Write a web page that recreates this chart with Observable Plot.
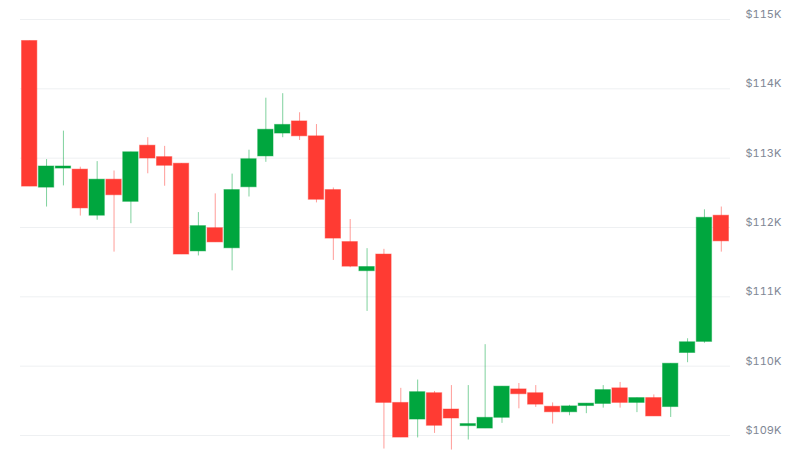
<!DOCTYPE html>
<html>
<head>
<meta charset="utf-8">
<script src="https://cdn.jsdelivr.net/npm/d3@7"></script>
<script src="https://cdn.jsdelivr.net/npm/@observablehq/plot@0.6"></script>
<style>
  html, body { margin: 0; padding: 0; background: #ffffff; }
  #chart { width: 800px; height: 450px; }
</style>
</head>
<body>
<div id="chart"></div>
<script>
const opens  = [114690,112575,112850,112835,112170,112690,112370,113180,113015,112920,111655,111990,111700,112580,113025,113355,113530,113315,112540,111790,111370,111610,109470,109230,109610,109375,109135,109100,109255,109665,109610,109415,109335,109425,109455,109680,109470,109540,109410,110190,110350,112170];
const closes = [112590,112880,112880,112275,112690,112465,113085,112995,112890,111610,112020,111785,112540,112985,113410,113480,113315,112400,111840,111435,111430,109470,108970,109625,109140,109245,109165,109255,109705,109595,109445,109335,109420,109460,109655,109470,109540,109275,110035,110345,112140,111800];
const highs  = [114690,112980,113390,112870,112950,112815,113085,113295,113170,112920,112215,112485,112770,113115,113865,113930,113655,113485,112570,112115,111695,111685,109680,109800,109635,109720,109720,110310,109705,109750,109720,109470,109435,109460,109720,109765,109540,109585,110035,110395,112255,112295];
const lows   = [112590,112295,112600,112165,112105,111645,112055,112775,112595,111610,111590,111785,111375,112440,112940,113295,113255,112355,111525,111420,110790,108805,108970,108965,109030,108790,108935,109100,109175,109385,109405,109165,109285,109315,109395,109395,109330,109275,109260,110050,110330,111645];
const yTicks = [109000,110000,111000,112000,113000,114000,115000];

const UP = "#00a63e", DOWN = "#ff3b33";
const data = opens.map((o, i) => ({
  i, open: o, close: closes[i], high: highs[i], low: lows[i],
  color: closes[i] >= o ? UP : DOWN
}));

const chart = Plot.plot({
  width: 800,
  height: 450,
  marginLeft: 20,
  marginRight: 70,
  marginTop: 19,
  marginBottom: 15,
  style: { fontFamily: "Inter, 'Noto Sans', sans-serif", background: "#ffffff" },
  x: { type: "band", domain: d3.range(opens.length), padding: 0.09, axis: null },
  y: { domain: [109000, 115000], axis: null },
  marks: [
    Plot.gridY(yTicks, { stroke: "#eef0f2", strokeOpacity: 1, strokeWidth: 1 }),
    Plot.axisY(yTicks, {
      anchor: "right",
      tickSize: 0,
      tickPadding: 15,
      dy: -5,
      fontSize: 11,
      fill: "#7f8795",
      tickFormat: d => "$" + d / 1000 + "K"
    }),
    Plot.ruleX(data, {
      x: "i", y1: "low", y2: "high",
      stroke: "color", strokeOpacity: 0.5, strokeWidth: 1
    }),
    Plot.barY(data, {
      x: "i",
      y1: d => Math.min(d.open, d.close),
      y2: d => Math.max(d.open, d.close),
      fill: "color",
      stroke: "color",
      strokeOpacity: 0.45,
      strokeWidth: 1
    })
  ]
});
document.getElementById("chart").appendChild(chart);
</script>
</body>
</html>
